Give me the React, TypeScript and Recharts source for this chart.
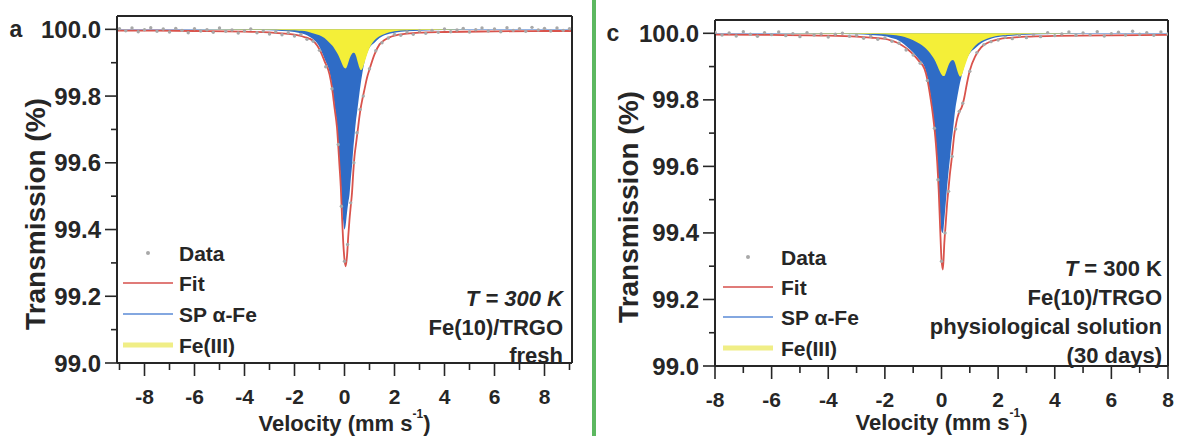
import { ComposedChart, Area, Line, Scatter, XAxis, YAxis, ReferenceLine } from 'recharts';

// velocity grid shared by the fitted curves (mm/s)
const curveVelocity = [-9.1, -8, -6, -4, -3, -2.5, -2, -1.8, -1.6, -1.4, -1.2, -1, -0.8, -0.6, -0.5, -0.4, -0.3, -0.2, -0.15, -0.1, -0.05, 0, 0.05, 0.1, 0.15, 0.2, 0.25, 0.3, 0.35, 0.4, 0.45, 0.5, 0.55, 0.6, 0.65, 0.7, 0.8, 0.9, 1, 1.2, 1.4, 1.6, 1.8, 2, 2.5, 3, 4, 6, 8, 9.1];

// panel a (fresh)
const leftFit = [99.996, 99.996, 99.995, 99.993, 99.991, 99.988, 99.984, 99.981, 99.977, 99.972, 99.962, 99.94, 99.905, 99.865, 99.825, 99.765, 99.705, 99.59, 99.53, 99.44, 99.36, 99.31, 99.29, 99.32, 99.38, 99.43, 99.47, 99.51, 99.57, 99.62, 99.65, 99.68, 99.71, 99.74, 99.765, 99.785, 99.82, 99.855, 99.88, 99.925, 99.955, 99.968, 99.976, 99.981, 99.987, 99.99, 99.992, 99.994, 99.995, 99.995];
const leftSp = [99.999, 99.999, 99.999, 99.998, 99.997, 99.995, 99.992, 99.989, 99.985, 99.978, 99.967, 99.947, 99.912, 99.872, 99.834, 99.775, 99.715, 99.605, 99.548, 99.475, 99.425, 99.4, 99.415, 99.45, 99.48, 99.505, 99.55, 99.59, 99.64, 99.68, 99.72, 99.75, 99.78, 99.81, 99.838, 99.862, 99.902, 99.928, 99.945, 99.96, 99.974, 99.982, 99.987, 99.99, 99.994, 99.996, 99.998, 99.999, 99.999, 99.999];
const leftFe3 = [100, 100, 100, 99.999, 99.999, 99.998, 99.997, 99.996, 99.995, 99.991, 99.987, 99.982, 99.974, 99.96, 99.952, 99.942, 99.93, 99.915, 99.906, 99.897, 99.889, 99.884, 99.883, 99.889, 99.9, 99.912, 99.921, 99.927, 99.93, 99.929, 99.922, 99.91, 99.896, 99.884, 99.878, 99.88, 99.9, 99.924, 99.944, 99.967, 99.979, 99.986, 99.991, 99.994, 99.997, 99.998, 99.999, 100, 100, 100];
const leftDataV = [-9, -8.75, -8.5, -8.25, -8, -7.75, -7.5, -7.25, -7, -6.75, -6.5, -6.25, -6, -5.75, -5.5, -5.25, -5, -4.75, -4.5, -4.25, -4, -3.75, -3.5, -3.25, -3, -2.75, -2.5, -2.25, -2, -1.75, -1.5, -1.25, -1, -0.75, -0.5, -0.25, -0.125, 0, 0.125, 0.25, 0.375, 0.5, 0.625, 0.75, 1, 1.25, 1.5, 1.75, 2, 2.25, 2.5, 2.75, 3, 3.25, 3.5, 3.75, 4, 4.25, 4.5, 4.75, 5, 5.25, 5.5, 5.75, 6, 6.25, 6.5, 6.75, 7, 7.25, 7.5, 7.75, 8, 8.25, 8.5, 8.75, 9];
const leftDataT = [100.002, 99.996, 100.004, 99.993, 99.999, 100.005, 99.994, 100.001, 99.992, 100.003, 99.997, 99.99, 100.002, 99.995, 99.999, 99.991, 100.004, 99.994, 99.998, 99.989, 99.996, 100.001, 99.99, 99.995, 99.986, 99.993, 99.984, 99.99, 99.98, 99.985, 99.97, 99.964, 99.937, 99.888, 99.822, 99.655, 99.47, 99.305, 99.355, 99.48, 99.6, 99.69, 99.76, 99.8, 99.882, 99.936, 99.96, 99.974, 99.985, 99.982, 99.992, 99.985, 99.995, 99.988, 99.997, 99.991, 100.001, 99.993, 99.998, 100.003, 99.992, 99.999, 100.004, 99.995, 100.001, 99.993, 100.005, 99.997, 100.002, 99.994, 100.006, 99.998, 100.003, 99.995, 100.004, 99.997, 100.002];

// panel c (physiological solution, 30 days)
const rightFit = [99.996, 99.996, 99.995, 99.993, 99.99, 99.987, 99.983, 99.979, 99.973, 99.964, 99.952, 99.937, 99.917, 99.893, 99.862, 99.812, 99.752, 99.67, 99.61, 99.53, 99.42, 99.32, 99.29, 99.37, 99.43, 99.49, 99.535, 99.58, 99.615, 99.655, 99.695, 99.72, 99.742, 99.757, 99.768, 99.775, 99.805, 99.85, 99.888, 99.932, 99.958, 99.97, 99.977, 99.982, 99.987, 99.99, 99.992, 99.994, 99.995, 99.995];
const rightSp = [99.999, 99.999, 99.999, 99.998, 99.997, 99.995, 99.991, 99.987, 99.982, 99.972, 99.958, 99.942, 99.922, 99.899, 99.868, 99.82, 99.76, 99.68, 99.625, 99.545, 99.46, 99.405, 99.4, 99.44, 99.49, 99.54, 99.585, 99.625, 99.67, 99.705, 99.745, 99.78, 99.805, 99.828, 99.85, 99.868, 99.9, 99.925, 99.94, 99.956, 99.97, 99.979, 99.985, 99.989, 99.993, 99.996, 99.998, 99.999, 99.999, 99.999];
const rightFe3 = [100, 100, 100, 99.999, 99.999, 99.998, 99.997, 99.996, 99.994, 99.991, 99.986, 99.979, 99.97, 99.958, 99.95, 99.94, 99.928, 99.913, 99.903, 99.893, 99.884, 99.876, 99.872, 99.872, 99.88, 99.893, 99.905, 99.913, 99.918, 99.92, 99.916, 99.905, 99.89, 99.877, 99.87, 99.872, 99.895, 99.92, 99.94, 99.963, 99.976, 99.984, 99.989, 99.993, 99.996, 99.998, 99.999, 100, 100, 100];
const rightDataV = [-8, -7.75, -7.5, -7.25, -7, -6.75, -6.5, -6.25, -6, -5.75, -5.5, -5.25, -5, -4.75, -4.5, -4.25, -4, -3.75, -3.5, -3.25, -3, -2.75, -2.5, -2.25, -2, -1.75, -1.5, -1.25, -1, -0.75, -0.5, -0.25, -0.125, 0, 0.125, 0.25, 0.375, 0.5, 0.625, 0.75, 1, 1.25, 1.5, 1.75, 2, 2.25, 2.5, 2.75, 3, 3.25, 3.5, 3.75, 4, 4.25, 4.5, 4.75, 5, 5.25, 5.5, 5.75, 6, 6.25, 6.5, 6.75, 7, 7.25, 7.5, 7.75, 8];
const rightDataT = [100.003, 99.995, 100.001, 99.992, 100.005, 99.997, 99.991, 100.002, 99.996, 100.004, 99.993, 99.999, 99.99, 100.002, 99.995, 99.998, 99.989, 99.997, 100.0, 99.991, 99.994, 99.985, 99.991, 99.982, 99.986, 99.976, 99.97, 99.95, 99.935, 99.91, 99.858, 99.715, 99.56, 99.315, 99.4, 99.525, 99.63, 99.712, 99.765, 99.79, 99.886, 99.942, 99.966, 99.975, 99.98, 99.988, 99.984, 99.993, 99.987, 99.996, 99.99, 100.002, 99.993, 99.998, 100.004, 99.994, 100.001, 99.996, 100.005, 99.992, 99.999, 100.003, 99.995, 100.006, 99.997, 100.002, 99.994, 100.004, 99.998];

const yTicks = [99.0, 99.1, 99.2, 99.3, 99.4, 99.5, 99.6, 99.7, 99.8, 99.9, 100.0];
const leftXTicks = [-9, -8, -7, -6, -5, -4, -3, -2, -1, 0, 1, 2, 3, 4, 5, 6, 7, 8, 9];
const rightXTicks = [-8, -7, -6, -5, -4, -3, -2, -1, 0, 1, 2, 3, 4, 5, 6, 7, 8];
const legendNames = ['Data', 'Fit', 'SP \u03b1-Fe', 'Fe(III)'];

const INK = '#262626';
const FIT = '#d9534c';
const SP = '#2f6cc6';
const FE3 = '#f4ef38';
const DOT = '#a8a8a8';
const FONT = '"Liberation Sans", Arial, sans-serif';

function YTick(props: any) {
  const { x, y, payload } = props;
  const major = Math.round(payload.value * 10) % 2 === 0;
  return (
    <g>
      <line x1={x - (major ? 12 : 6)} x2={x} y1={y} y2={y} stroke={INK} strokeWidth={1.6} />
      {major && (
        <text x={x - 16} y={y} textAnchor="end" dominantBaseline="central" fontFamily={FONT} fontWeight="bold" fontSize={24} fill={INK}>
          {payload.value.toFixed(1)}
        </text>
      )}
    </g>
  );
}

function XTick(props: any) {
  const { x, y, payload } = props;
  const major = payload.value % 2 === 0;
  return (
    <g>
      <line x1={x} x2={x} y1={y} y2={y + (major ? 13 : 7)} stroke={INK} strokeWidth={1.6} />
      {major && (
        <text x={x} y={y + 33} textAnchor="middle" dominantBaseline="central" fontFamily={FONT} fontWeight="bold" fontSize={21} fill={INK}>
          {String(payload.value)}
        </text>
      )}
    </g>
  );
}

function Panel({ cfg }: { cfg: any }) {
  const chartData = curveVelocity.map((v, i) => ({ v, fit: cfg.fit[i], sp: cfg.sp[i], fe3: cfg.fe3[i] }));
  const points = cfg.dataV.map((v: number, i: number) => ({ v, t: cfg.dataT[i] }));
  const txt = { fontFamily: FONT, fontWeight: 'bold' as const, fill: INK };
  return (
    <div style={{ position: 'absolute', left: cfg.left, top: 0, width: cfg.width, height: 436 }}>
      <ComposedChart width={cfg.width} height={436} data={chartData} margin={cfg.margin}>
        <XAxis dataKey="v" type="number" domain={cfg.xDomain} ticks={cfg.xTicks} interval={0} allowDataOverflow
          height={40} tickSize={0} tickMargin={0} tickLine={false} tick={<XTick />} axisLine={{ stroke: INK, strokeWidth: 2 }} />
        <YAxis type="number" domain={[99, 100.04]} ticks={yTicks} interval={0} allowDataOverflow
          width={60} tickSize={0} tickMargin={0} tickLine={false} tick={<YTick />} axisLine={{ stroke: INK, strokeWidth: 2 }} />
        <Scatter data={points} dataKey="t" isAnimationActive={false}
          shape={(p: any) => <circle cx={p.cx} cy={p.cy} r={1.7} fill={DOT} />} />
        <Area type="monotone" dataKey="sp" baseValue={100} fill={SP} fillOpacity={1} stroke="none" dot={false} activeDot={false} isAnimationActive={false} />
        <Area type="monotone" dataKey="fe3" baseValue={100} fill={FE3} fillOpacity={1} stroke="none" dot={false} activeDot={false} isAnimationActive={false} />
        <Line type="monotone" dataKey="fit" stroke={FIT} strokeWidth={1.8} dot={false} activeDot={false} isAnimationActive={false} />
        <ReferenceLine y={100.04} stroke={INK} strokeWidth={2} />
        <ReferenceLine x={cfg.xDomain[1]} stroke={INK} strokeWidth={2} />
      </ComposedChart>
      <svg width={cfg.width} height={436} style={{ position: 'absolute', left: 0, top: 0, pointerEvents: 'none' }}>
        <text x={cfg.letter[0]} y={cfg.letter[1]} textAnchor="middle" dominantBaseline="central" fontSize={23} {...txt}>{cfg.letter[2]}</text>
        <text x={cfg.yTitle[0]} y={cfg.yTitle[1]} transform={`rotate(-90 ${cfg.yTitle[0]} ${cfg.yTitle[1]})`}
          textAnchor="middle" dominantBaseline="central" fontSize={28} {...txt}>Transmission (%)</text>
        <text x={cfg.xTitle[0]} y={cfg.xTitle[1]} textAnchor="middle" dominantBaseline="central" fontSize={22} {...txt}>
          Velocity (mm s<tspan fontSize={12} dy={-9}>-1</tspan><tspan dy={9}>)</tspan>
        </text>
        {/* legend */}
        <circle cx={cfg.legendX[1]} cy={cfg.legendY[0]} r={2} fill={DOT} />
        <line x1={cfg.legendX[0]} x2={cfg.legendX[2]} y1={cfg.legendY[1]} y2={cfg.legendY[1]} stroke="#e07b78" strokeWidth={2} />
        <line x1={cfg.legendX[0]} x2={cfg.legendX[2]} y1={cfg.legendY[2]} y2={cfg.legendY[2]} stroke="#5a8ad6" strokeWidth={1.6} />
        <line x1={cfg.legendX[0]} x2={cfg.legendX[2]} y1={cfg.legendY[3]} y2={cfg.legendY[3]} stroke="#f0ee86" strokeWidth={5} />
        {legendNames.map((name, i) => (
          <text key={name} x={cfg.legendX[3]} y={cfg.legendY[i]} dominantBaseline="central" fontSize={21} {...txt}>{name}</text>
        ))}
        {/* annotation */}
        {cfg.notes.map((line: any, i: number) => (
          <text key={i} x={cfg.noteX} y={cfg.noteY[i]} textAnchor="end" dominantBaseline="central" fontSize={22} {...txt}>{line}</text>
        ))}
      </svg>
    </div>
  );
}

const leftCfg = {
  left: 0, width: 590, margin: { top: 16, right: 18, bottom: 33, left: 57 },
  xDomain: [-9.1, 9.1], xTicks: leftXTicks,
  fit: leftFit, sp: leftSp, fe3: leftFe3, dataV: leftDataV, dataT: leftDataT,
  letter: [16, 29, 'a'], yTitle: [35, 214], xTitle: [344.5, 423],
  legendX: [123, 148, 173, 179], legendY: [253, 283, 314, 345],
  noteX: 563, noteY: [298, 327, 355],
  notes: [<tspan fontStyle="italic">T = 300 K</tspan>, 'Fe(10)/TRGO', 'fresh'],
};

const rightCfg = {
  left: 590, width: 589, margin: { top: 20, right: 11, bottom: 30, left: 65 },
  xDomain: [-8, 8], xTicks: rightXTicks,
  fit: rightFit, sp: rightSp, fe3: rightFe3, dataV: rightDataV, dataT: rightDataT,
  letter: [23, 33, 'c'], yTitle: [38, 207], xTitle: [351.5, 422],
  legendX: [133, 158, 183, 191], legendY: [257, 287, 317, 348],
  noteX: 572, noteY: [268, 297, 326, 355],
  notes: [<><tspan fontStyle="italic">T</tspan> = 300 K</>, 'Fe(10)/TRGO', 'physiological solution', '(30 days)'],
};

export default function App() {
  return (
    <div style={{ position: 'absolute', left: 0, top: 0, width: 1179, height: 436, background: '#fff', overflow: 'hidden' }}>
      <Panel cfg={leftCfg} />
      <div style={{ position: 'absolute', left: 592, top: 0, width: 4, height: 436, background: '#5cb860' }} />
      <Panel cfg={rightCfg} />
    </div>
  );
}
